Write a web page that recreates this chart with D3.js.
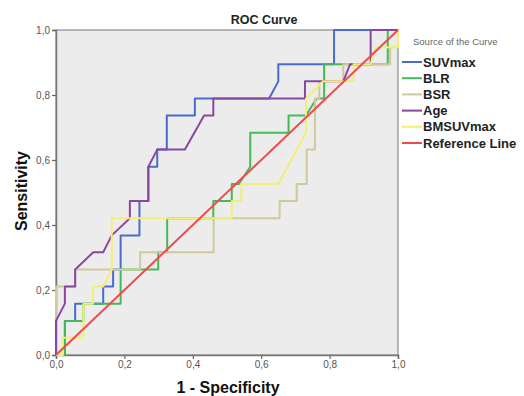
<!DOCTYPE html>
<html>
<head>
<meta charset="utf-8">
<script src="https://cdn.jsdelivr.net/npm/d3@7"></script>
<style>
  body { margin: 0; background: #fff; }
  text { font-family: Arial, "Liberation Sans", sans-serif; }
</style>
</head>
<body>
<div id="chart"></div>
<script>
var w = 524, h = 396;

// ROC points, [1 - specificity, sensitivity]
var suvmax = [[0,0],[0.026,0],[0.026,0.105],[0.056,0.105],[0.056,0.158],[0.138,0.158],[0.138,0.211],[0.167,0.211],
  [0.167,0.263],[0.189,0.263],[0.189,0.368],[0.244,0.368],[0.244,0.474],[0.27,0.474],[0.27,0.579],[0.296,0.579],
  [0.296,0.632],[0.324,0.632],[0.324,0.737],[0.406,0.737],[0.406,0.789],[0.623,0.789],[0.65,0.842],[0.65,0.895],
  [0.813,0.895],[0.813,1],[1,1]];
var blr = [[0,0],[0.026,0],[0.026,0.105],[0.08,0.105],[0.08,0.158],[0.189,0.158],[0.189,0.263],[0.299,0.263],
  [0.299,0.316],[0.325,0.316],[0.325,0.421],[0.46,0.421],[0.46,0.474],[0.514,0.474],[0.514,0.526],[0.535,0.526],
  [0.568,0.579],[0.568,0.684],[0.68,0.684],[0.68,0.737],[0.731,0.737],[0.762,0.789],[0.784,0.789],[0.784,0.895],
  [0.97,0.895],[0.97,1],[1,1]];
var bsr = [[0,0],[0,0.211],[0.056,0.211],[0.056,0.263],[0.246,0.263],[0.246,0.316],[0.461,0.316],[0.461,0.421],
  [0.654,0.421],[0.654,0.474],[0.704,0.474],[0.704,0.526],[0.733,0.526],[0.733,0.632],[0.757,0.632],[0.757,0.789],
  [0.77,0.789],[0.77,0.842],[0.84,0.842],[0.84,0.895],[0.977,0.895],[0.977,0.947],[1,0.947],[1,1]];
var age = [[0,0],[0,0.105],[0.026,0.158],[0.026,0.211],[0.056,0.211],[0.056,0.263],[0.109,0.316],[0.138,0.316],
  [0.163,0.368],[0.216,0.421],[0.216,0.474],[0.27,0.474],[0.27,0.579],[0.296,0.632],[0.377,0.632],[0.433,0.737],
  [0.46,0.737],[0.46,0.789],[0.728,0.789],[0.728,0.842],[0.84,0.842],[0.86,0.895],[0.92,0.895],[0.92,1],[1,1]];
var bmsuvmax = [[0,0],[0.02,0],[0.02,0.053],[0.08,0.053],[0.08,0.158],[0.108,0.158],[0.108,0.211],[0.138,0.211],
  [0.163,0.263],[0.163,0.421],[0.514,0.421],[0.514,0.474],[0.542,0.474],[0.542,0.526],[0.65,0.526],[0.731,0.684],
  [0.731,0.789],[0.78,0.842],[0.87,0.842],[0.87,0.895],[0.92,0.895],[0.935,0.947],[1,0.947],[1,1]];
var reference = [[0,0],[1,1]];

var seriesNames = ["SUVmax", "BLR", "BSR", "Age", "BMSUVmax", "Reference Line"];
var seriesData = [suvmax, blr, bsr, age, bmsuvmax, reference];
var seriesColors = ["#4a6bcb", "#45b957", "#cfc99c", "#8a47a2", "#f3ef72", "#f04a4a"];
var tickValues = [0, 0.2, 0.4, 0.6, 0.8, 1.0];

var svg = d3.select("#chart").append("svg")
    .attr("width", w).attr("height", h);

// plot area in pixels (window.top is taken, so prefixed names)
var plotL = 56, plotR = 398, plotT = 30, plotB = 355;

var x = d3.scaleLinear().domain([0, 1]).range([plotL, plotR]);
var y = d3.scaleLinear().domain([0, 1]).range([plotB, plotT]);

// grey plot background
svg.append("rect")
    .attr("x", plotL).attr("y", plotT)
    .attr("width", plotR - plotL).attr("height", plotB - plotT)
    .attr("fill", "#ececec")
    .attr("stroke", "#8a8a8a")
    .attr("stroke-width", 1.2);

var fmt = function (d) { return d3.format(".1f")(d).replace(".", ","); };

// axes
var xAxis = svg.append("g")
    .attr("transform", "translate(0," + plotB + ")")
    .call(d3.axisBottom(x).tickValues(tickValues).tickFormat(fmt).tickSize(4).tickPadding(2));
var yAxis = svg.append("g")
    .attr("transform", "translate(" + plotL + ",0)")
    .call(d3.axisLeft(y).tickValues(tickValues).tickFormat(fmt).tickSize(4).tickPadding(2));

[xAxis, yAxis].forEach(function (a) {
    a.select(".domain").attr("stroke", "#777").attr("stroke-width", 1.5);
    a.selectAll(".tick line").attr("stroke", "#666").attr("stroke-width", 1.2);
    a.selectAll(".tick text")
        .attr("fill", "#555")
        .style("font-family", "Arial, 'Liberation Sans', sans-serif")
        .style("font-size", "10px");
});

// the curves, drawn in legend order so later ones sit on top
var line = d3.line().x(d => x(d[0])).y(d => y(d[1]));

svg.append("g").selectAll("path")
    .data(seriesData)
    .enter().append("path")
    .attr("d", line)
    .attr("fill", "none")
    .attr("stroke", (d, i) => seriesColors[i])
    .attr("stroke-width", 2)
    .attr("stroke-linejoin", "round");

// titles
svg.append("text")
    .attr("x", 264).attr("y", 24)
    .attr("text-anchor", "middle")
    .attr("font-size", "12.5px").attr("font-weight", "bold")
    .attr("fill", "#222")
    .text("ROC Curve");

svg.append("text")
    .attr("x", 228).attr("y", 393)
    .attr("text-anchor", "middle")
    .attr("font-size", "16px").attr("font-weight", "bold")
    .attr("fill", "#111")
    .text("1 - Specificity");

svg.append("text")
    .attr("transform", "translate(27,191) rotate(-90)")
    .attr("text-anchor", "middle")
    .attr("font-size", "16px").attr("font-weight", "bold")
    .attr("fill", "#111")
    .text("Sensitivity");

// legend
svg.append("text")
    .attr("x", 413).attr("y", 45)
    .attr("font-size", "9.5px")
    .attr("fill", "#666")
    .text("Source of the Curve");

var legend = svg.append("g").selectAll("g")
    .data(seriesNames)
    .enter().append("g")
    .attr("transform", (d, i) => "translate(402," + (62 + i * 16.2) + ")");

legend.append("line")
    .attr("x1", 0).attr("x2", 20)
    .attr("stroke", (d, i) => seriesColors[i])
    .attr("stroke-width", 2);

legend.append("text")
    .attr("x", 21).attr("y", 4.5)
    .attr("font-size", "13px").attr("font-weight", "bold")
    .attr("fill", "#222")
    .text(d => d);
</script>
</body>
</html>
